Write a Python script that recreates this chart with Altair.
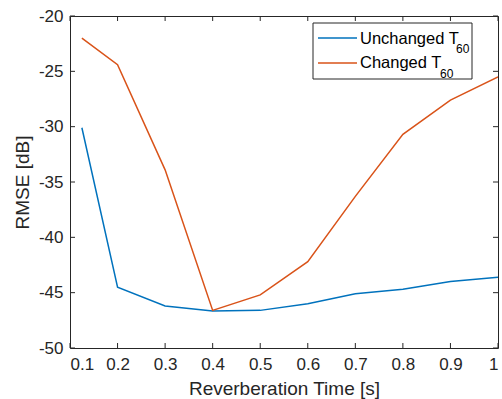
import altair as alt
import pandas as pd

# Data
t60 = [0.125, 0.2, 0.3, 0.4, 0.5, 0.6, 0.7, 0.8, 0.9, 1.0]
unchanged = [-30.1, -44.5, -46.2, -46.65, -46.6, -46.0, -45.1, -44.7, -44.0, -43.6]
changed = [-22.0, -24.4, -33.9, -46.6, -45.2, -42.2, -36.3, -30.7, -27.6, -25.5]
series_names = ["Unchanged T", "Changed T"]
x_ticks = [0.1, 0.2, 0.3, 0.4, 0.5, 0.6, 0.7, 0.8, 0.9, 1.0]
y_ticks = [-50, -45, -40, -35, -30, -25, -20]

BLUE = "#0072BD"
ORANGE = "#D95319"
AX = "#262626"
FONT = "Liberation Sans"
W, H = 428, 332

df = pd.DataFrame({
    "t": t60 * 2,
    "rmse": unchanged + changed,
    "series": [series_names[0]] * len(t60) + [series_names[1]] * len(t60),
})

xscale = alt.Scale(domain=[0.1, 1.0], nice=False, zero=False)
yscale = alt.Scale(domain=[-50, -20], nice=False, zero=False)

lines = alt.Chart(df).mark_line(strokeWidth=1.5, clip=True).encode(
    x=alt.X("t:Q", scale=xscale, axis=alt.Axis(
        values=x_ticks, title="Reverberation Time [s]", labelExpr="datum.value + ''",
        domain=False, ticks=False, grid=False, labelFontSize=17, labelPadding=8,
        labelColor=AX, labelFont=FONT, titleFont=FONT, titleFontSize=19,
        titleFontWeight="normal", titleColor=AX, titleY=46, titleBaseline="alphabetic")),
    y=alt.Y("rmse:Q", scale=yscale, axis=alt.Axis(
        values=y_ticks, title="RMSE [dB]", labelExpr="datum.value + ''",
        domain=False, ticks=False, grid=False, labelFontSize=17, labelPadding=7,
        labelColor=AX, labelFont=FONT, titleFont=FONT, titleFontSize=19,
        titleFontWeight="normal", titleColor=AX, titleX=-42, titleY=H / 2,
        titleBaseline="alphabetic")),
    color=alt.Color("series:N", scale=alt.Scale(domain=series_names, range=[BLUE, ORANGE]),
                    legend=None),
    detail="series:N",
)

xt = pd.DataFrame({"v": x_ticks})
yt = pd.DataFrame({"v": y_ticks})
tick_style = dict(color=AX, strokeWidth=1)
xb = alt.Chart(xt).mark_rule(**tick_style).encode(x=alt.X("v:Q", scale=xscale), y=alt.value(H), y2=alt.value(H - 5))
xtop = alt.Chart(xt).mark_rule(**tick_style).encode(x=alt.X("v:Q", scale=xscale), y=alt.value(0), y2=alt.value(5))
yl = alt.Chart(yt).mark_rule(**tick_style).encode(y=alt.Y("v:Q", scale=yscale), x=alt.value(0), x2=alt.value(5))
yr = alt.Chart(yt).mark_rule(**tick_style).encode(y=alt.Y("v:Q", scale=yscale), x=alt.value(W), x2=alt.value(W - 5))

one = pd.DataFrame({"a": [0]})
box = alt.Chart(one).mark_rect(fill="white", stroke=AX, strokeWidth=1).encode(
    x=alt.value(243), x2=alt.value(402), y=alt.value(7), y2=alt.value(63))
l1 = alt.Chart(one).mark_rule(color=BLUE, strokeWidth=1.5).encode(
    x=alt.value(248), x2=alt.value(287), y=alt.value(22))
l2 = alt.Chart(one).mark_rule(color=ORANGE, strokeWidth=1.5).encode(
    x=alt.value(248), x2=alt.value(287), y=alt.value(47))
txt = dict(font=FONT, fontSize=16.5, color="black", align="left", baseline="alphabetic")
sub = dict(font=FONT, fontSize=12, color="black", align="left", baseline="alphabetic")
t1 = alt.Chart(one).mark_text(text=series_names[0], **txt).encode(x=alt.value(290), y=alt.value(28))
s1 = alt.Chart(one).mark_text(text="60", **sub).encode(x=alt.value(386), y=alt.value(36.7))
t2 = alt.Chart(one).mark_text(text=series_names[1], **txt).encode(x=alt.value(290), y=alt.value(52.3))
s2 = alt.Chart(one).mark_text(text="60", **sub).encode(x=alt.value(370), y=alt.value(61.7))

chart = alt.layer(lines, xb, xtop, yl, yr, box, l1, l2, t1, s1, t2, s2).properties(
    width=W, height=H,
    autosize=alt.AutoSizeParams(type="none"),
    padding={"left": 70, "top": 16, "right": 4, "bottom": 51},
    background="white",
).configure_view(stroke=AX, strokeWidth=1)

chart.save("out.html", embed_options={"renderer": "svg", "actions": False})
